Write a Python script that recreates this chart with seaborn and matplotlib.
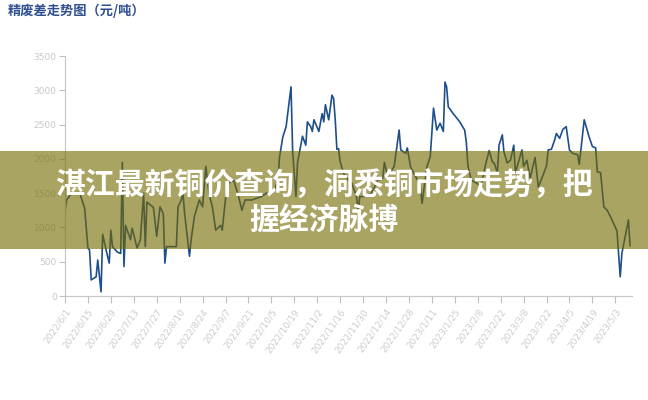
import matplotlib
matplotlib.use("Agg")
import matplotlib.pyplot as plt
import seaborn as sns
import pandas as pd
from matplotlib.patches import Rectangle

dates = ["2022-06-01","2022-06-02","2022-06-05","2022-06-08","2022-06-10","2022-06-13","2022-06-15","2022-06-16","2022-06-17","2022-06-20",
         "2022-06-21","2022-06-23","2022-06-24","2022-06-26","2022-06-28","2022-06-29","2022-06-30","2022-07-03","2022-07-05","2022-07-06",
         "2022-07-07","2022-07-08","2022-07-11","2022-07-12","2022-07-15","2022-07-17","2022-07-19","2022-07-20","2022-07-21","2022-07-25",
         "2022-07-27","2022-07-29","2022-07-31","2022-08-01","2022-08-02","2022-08-08","2022-08-09","2022-08-11","2022-08-12","2022-08-13",
         "2022-08-16","2022-08-17","2022-08-19","2022-08-22","2022-08-24","2022-08-26","2022-08-28","2022-08-30","2022-09-01","2022-09-04",
         "2022-09-05","2022-09-07","2022-09-09","2022-09-12","2022-09-15","2022-09-17","2022-09-19","2022-09-23","2022-09-29","2022-10-02",
         "2022-10-05","2022-10-07","2022-10-09","2022-10-10","2022-10-12","2022-10-14","2022-10-17","2022-10-18","2022-10-20","2022-10-21",
         "2022-10-23","2022-10-24","2022-10-26","2022-10-27","2022-10-29","2022-10-30","2022-10-31","2022-11-03","2022-11-05","2022-11-06",
         "2022-11-07","2022-11-09","2022-11-11","2022-11-12","2022-11-13","2022-11-14","2022-11-15","2022-11-16","2022-11-18","2022-11-21",
         "2022-11-23","2022-11-26","2022-11-27","2022-11-28","2022-12-01","2022-12-05","2022-12-07","2022-12-09","2022-12-12","2022-12-13",
         "2022-12-15","2022-12-19","2022-12-22","2022-12-23","2022-12-26","2022-12-27","2022-12-29","2023-01-02","2023-01-04","2023-01-05",
         "2023-01-08","2023-01-10","2023-01-12","2023-01-14","2023-01-16","2023-01-18","2023-01-19","2023-01-20","2023-01-21","2023-01-24",
         "2023-01-28","2023-01-31","2023-02-01","2023-02-02","2023-02-04","2023-02-07","2023-02-10","2023-02-13","2023-02-15","2023-02-17",
         "2023-02-18","2023-02-20","2023-02-21","2023-02-23","2023-02-24","2023-02-26","2023-02-28","2023-03-02","2023-03-03","2023-03-07",
         "2023-03-08","2023-03-10","2023-03-12","2023-03-15","2023-03-17","2023-03-20","2023-03-22","2023-03-23","2023-03-25","2023-03-27",
         "2023-03-28","2023-03-30","2023-04-01","2023-04-03","2023-04-05","2023-04-07","2023-04-10","2023-04-11","2023-04-14","2023-04-17",
         "2023-04-19","2023-04-21","2023-04-22","2023-04-24","2023-04-26","2023-04-28","2023-04-30","2023-05-04","2023-05-06","2023-05-07",
         "2023-05-11","2023-05-12"]

values = [1230, 1400, 1500, 1480, 1500, 1280, 700, 670, 235, 280,
          525, 60, 900, 680, 480, 960, 720, 640, 620, 1950,
          430, 1030, 820, 990, 700, 820, 1500, 720, 1370, 1290,
          870, 1300, 1200, 480, 720, 720, 1300, 1400, 1500, 1210,
          580, 820, 1160, 1400, 1300, 1890, 1480, 1300, 960, 1030,
          960, 1420, 1650, 1690, 1450, 1250, 1400, 1400, 1450, 1500,
          1500, 1550, 1700, 2030, 2320, 2470, 3050, 2100, 1450, 1950,
          2200, 2330, 2200, 2540, 2470, 2400, 2570, 2400, 2660, 2540,
          2790, 2570, 2930, 2880, 2570, 2140, 2150, 1960, 1790, 1690,
          1650, 1450, 1250, 1450, 1450, 1500, 1590, 1690, 1720, 1950,
          1750, 1890, 2420, 2130, 2080, 2160, 1880, 1700, 1590, 1350,
          1890, 2030, 2740, 2420, 2520, 2400, 3120, 3050, 2760, 2660,
          2540, 2420, 2250, 1900, 1690, 1650, 1600, 1940, 2120, 1950,
          1940, 1800, 2200, 2350, 2100, 1940, 1980, 2200, 1800, 2130,
          1890, 1980, 1720, 2020, 1590, 1770, 1900, 2130, 2140, 2280,
          2370, 2300, 2430, 2470, 2130, 2080, 2060, 1920, 2570, 2320,
          2180, 2160, 1810, 1800, 1300, 1250, 1160, 950, 280, 620,
          1110, 730]

x_tick_labels = ["2022/6/1", "2022/6/15", "2022/6/29", "2022/7/13", "2022/7/27", "2022/8/10", "2022/8/24",
                 "2022/9/7", "2022/9/21", "2022/10/5", "2022/10/19", "2022/11/2", "2022/11/16", "2022/11/30",
                 "2022/12/14", "2022/12/28", "2023/1/11", "2023/1/25", "2023/2/8", "2023/2/22", "2023/3/8",
                 "2023/3/22", "2023/4/5", "2023/4/19", "2023/5/3"]
y_ticks = [0, 500, 1000, 1500, 2000, 2500, 3000, 3500]

title = "精废差走势图（元/吨）"
banner_lines = ["湛江最新铜价查询，洞悉铜市场走势，把", "握经济脉搏"]

sns.set_style("white")
plt.rcParams['font.family'] = ['Noto Sans CJK SC', 'DejaVu Sans']

df = pd.DataFrame({"date": pd.to_datetime(dates), "value": values})

fig = plt.figure(figsize=(6.48, 4.0), dpi=100)
ax = fig.add_axes([65 / 648, 104 / 400, 566.7 / 648, 240 / 400])
sns.lineplot(data=df, x="date", y="value", ax=ax, color="#1f4e8c", linewidth=1.2, estimator=None)

ax.set_ylim(0, 3500)
ax.set_xlim(pd.Timestamp("2022-06-01"), pd.Timestamp("2023-05-13"))
ax.set_xlabel("")
ax.set_ylabel("")

ax.set_yticks(y_ticks)
ax.set_yticklabels([str(v) for v in y_ticks], fontsize=6.5, color="#c8c8c8", family="DejaVu Sans")
tick_pos = pd.to_datetime(x_tick_labels, format="%Y/%m/%d")
ax.set_xticks(tick_pos)
ax.set_xticklabels(x_tick_labels, rotation=55, ha="right", va="top", rotation_mode="anchor",
                   fontsize=6.5, color="#cccccc", family="DejaVu Sans")
ax.tick_params(axis="x", bottom=True, length=5, width=0.8, color="#c0c0c0", pad=3)
ax.tick_params(axis="y", left=True, length=4, width=0.8, color="#c0c0c0", pad=2)

for s in ["top", "right"]:
    ax.spines[s].set_visible(False)
for s in ["left", "bottom"]:
    ax.spines[s].set_color("#c8c8c8")
    ax.spines[s].set_linewidth(0.9)

fig.text(8 / 648, 1 - 11 / 400, title, fontsize=9.5, fontweight="bold", color="#2f4f8f",
         ha="left", va="center")

rect = Rectangle((0, 1 - 249 / 400), 1, 98 / 400, transform=fig.transFigure,
                 facecolor="#746b00", edgecolor="none", alpha=0.61, zorder=5)
fig.add_artist(rect)
fig.text(0.5, 1 - 186 / 400, banner_lines[0], fontsize=21.5, fontweight="bold", color="white",
         ha="center", va="center", zorder=6)
fig.text(0.5, 1 - 221 / 400, banner_lines[1], fontsize=21.5, fontweight="bold", color="white",
         ha="center", va="center", zorder=6)

fig.savefig("out.png", dpi=100)
